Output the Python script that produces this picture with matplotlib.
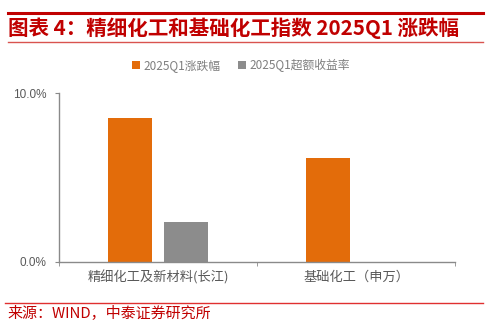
import numpy as np
import matplotlib
matplotlib.use("Agg")
import matplotlib.pyplot as plt
from matplotlib.ticker import FuncFormatter

plt.rcParams['font.family'] = ['Noto Sans CJK SC', 'DejaVu Sans']

# data (%)
categories = ["精细化工及新材料(长江)", "基础化工（申万）"]
series_names = ["2025Q1涨跌幅", "2025Q1超额收益率"]
change = [8.55, 6.15]
excess = [2.39, 0.0]

orange = "#E36C0A"
grey = "#8C8C8C"
red = "#C00000"
axis_col = "#8A8A8A"

W, H = 495, 327
fig = plt.figure(figsize=(W / 100, H / 100), dpi=100)

# header and footer rules
fig.add_artist(plt.Line2D([8 / W, 483 / W], [1 - 13 / H, 1 - 13 / H], color=red, lw=2.2))
fig.add_artist(plt.Line2D([8 / W, 483 / W], [1 - 42 / H, 1 - 42 / H], color="#D9534F", lw=1.0))
fig.add_artist(plt.Line2D([5 / W, 483 / W], [1 - 303 / H, 1 - 303 / H], color="#E03030", lw=1.0))

fig.text(8 / W, 1 - 28 / H, "图表 4：精细化工和基础化工指数 2025Q1 涨跌幅",
         color=red, fontsize=14.8, fontweight="bold", va="center", ha="left")
fig.text(7 / W, 1 - 313 / H, "来源：WIND，中泰证券研究所",
         color=red, fontsize=10.8, va="center", ha="left")

ax = fig.add_axes([59 / W, 1 - 262 / H, (455 - 59) / W, (262 - 93.3) / H])
x = np.arange(len(categories))
bw = 0.222
off = 0.141
ax.bar(x - off, change, bw, color=orange, label=series_names[0])
ax.bar(x + off, excess, bw, color=grey, label=series_names[1])

ax.set_xlim(-0.5, len(categories) - 0.5)
ax.set_ylim(0, 10)
ax.set_yticks([0, 10])
ax.yaxis.set_major_formatter(FuncFormatter(lambda v, p: f"{v:.1f}%"))
ax.set_xticks(x)
ax.set_xticklabels(categories, fontsize=9.5, color="#595959")
ax.set_xticks([-0.5, 0.5, 1.5], minor=True)
ax.tick_params(axis="x", which="major", length=0, pad=6)
ax.tick_params(axis="x", which="minor", length=3, color=axis_col)
ax.tick_params(axis="y", length=3, color=axis_col, labelcolor="#595959", pad=6)
for lab in ax.get_yticklabels():
    lab.set_family("Liberation Sans")
    lab.set_fontsize(8.5)
for s in ["top", "right"]:
    ax.spines[s].set_visible(False)
for s in ["left", "bottom"]:
    ax.spines[s].set_color(axis_col)
    ax.spines[s].set_linewidth(1.0)

ax.legend(loc="center", bbox_to_anchor=((241 - 59) / (455 - 59), 1.0 + 28 / (262 - 93.3)), ncol=2,
          frameon=False, fontsize=8.5, labelcolor="#7F7F7F",
          handlelength=0.7, handleheight=0.7, handletextpad=0.3, columnspacing=1.5)

fig.savefig("out.png", dpi=100)
